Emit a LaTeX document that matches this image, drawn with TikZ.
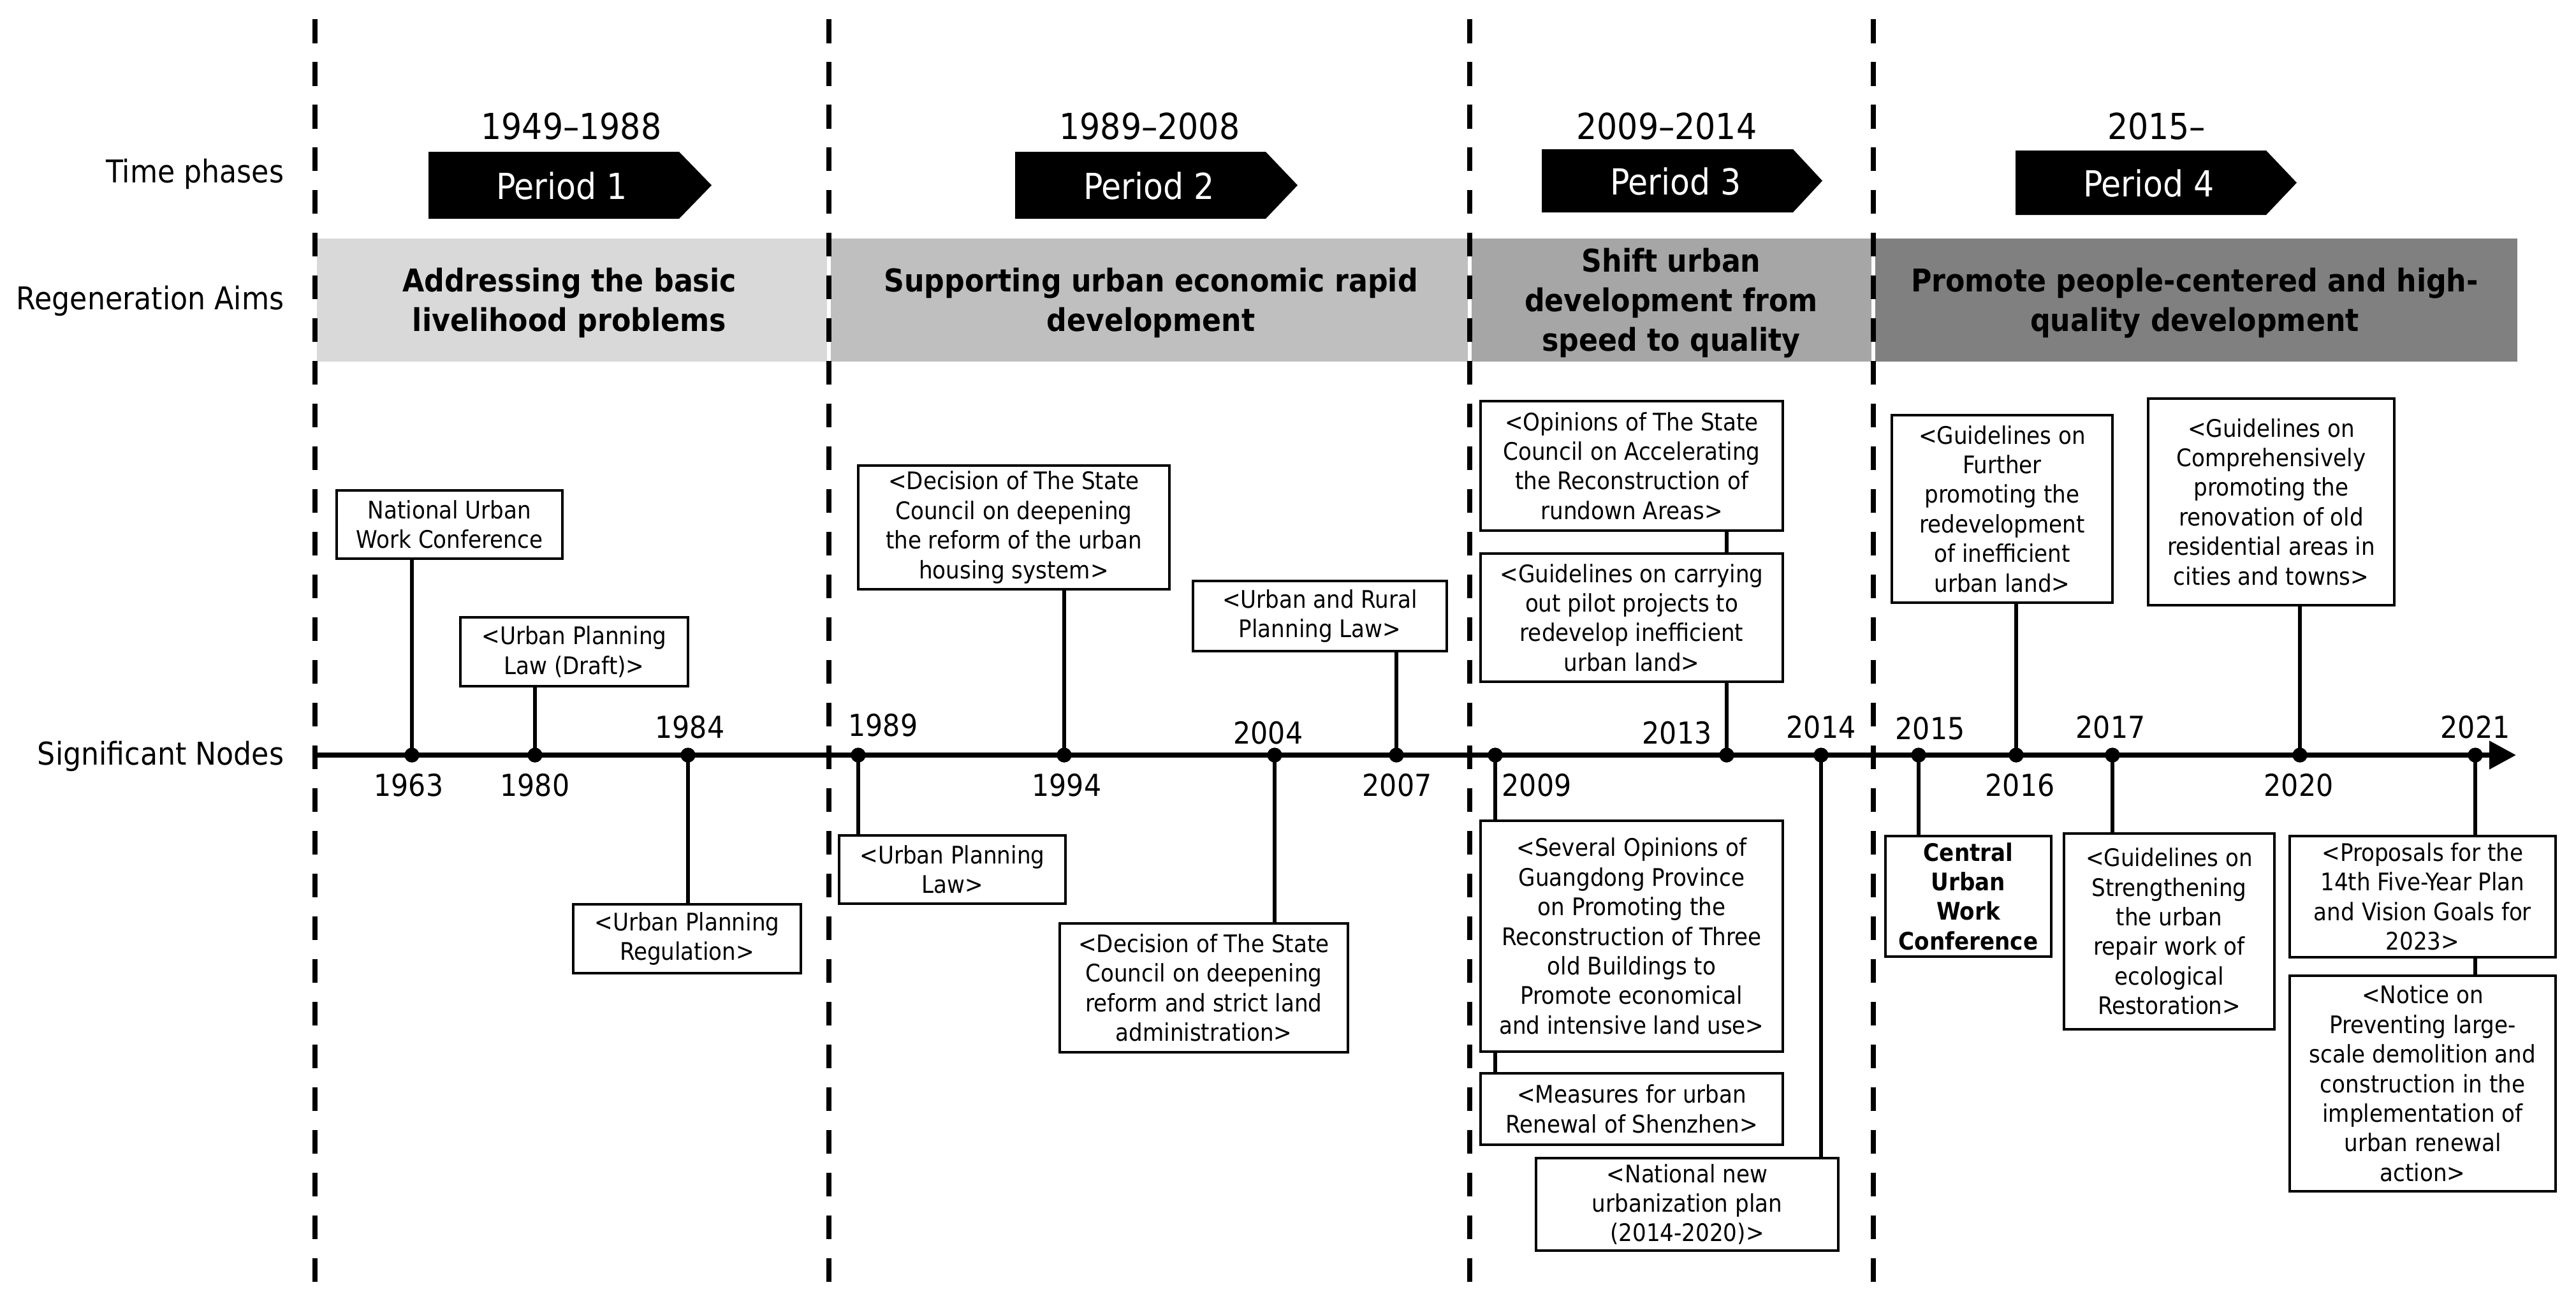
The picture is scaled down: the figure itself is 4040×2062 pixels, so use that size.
\documentclass[tikz,border=0pt]{standalone}
\usepackage{fontspec}
\setmainfont{DejaVu Sans Condensed}
\usetikzlibrary{arrows.meta}
\definecolor{aimA}{HTML}{D9D9D9}
\definecolor{aimB}{HTML}{BFBFBF}
\definecolor{aimC}{HTML}{A6A6A6}
\definecolor{aimD}{HTML}{808080}
\newcommand\fsz[2]{\fontsize{#1}{#2}\selectfont}
% optional style, name, x1, y1, x2, y2, text
\newcommand\docbox[7][]{\node[docbox,#1,minimum width={(#5-#3)*0.1mm},minimum height={(#6-#4)*0.1mm}] (#2) at ({(#3+#5)/2},{(#4+#6)/2}) {#7};}
% name, x1, x2, x3, ytop, ybot
\newcommand\periodshape[6]{\fill (#2,#5) -- (#3,#5) -- (#4,{(#5+#6)/2}) -- (#3,#6) -- (#2,#6) -- cycle;}
\begin{document}
\begin{tikzpicture}[x=0.1mm,y=-0.1mm,
  docbox/.style={draw,line width=1.2pt,fill=white,align=center,inner sep=0pt,font=\fsz{10.8}{13.2}},
  dotnode/.style={circle,fill=black,inner sep=0pt,minimum size=2.3mm},
  stem/.style={line width=1.6pt},
  yearlab/.style={font=\fsz{13.5}{16},inner sep=0pt},
  sidelab/.style={font=\fsz{14}{17},anchor=east,inner sep=0pt},
  aimtxt/.style={font=\bfseries\fsz{14}{17.6},align=center,inner sep=0pt},
  periodtxt/.style={text=white,font=\fsz{16}{19},inner sep=0pt},
  rangetxt/.style={font=\fsz{16}{19},inner sep=0pt},
  divider/.style={line width=2.5pt,dash pattern=on 3.75mm off 2.95mm},
  timeline/.style={line width=2.3pt,-{Triangle[length=4.2mm,width=4.3mm]}}]
\useasboundingbox (0,0) rectangle (4040,2062);

% side labels
\node[sidelab] (lt) at (446,273) {Time phases};
\node[sidelab] (la) at (446,472) {Regeneration Aims};
\node[sidelab] (ln) at (446,1186) {Significant Nodes};

% aims bars
\fill[aimA] (497,374) rectangle (1297,567);
\fill[aimB] (1303,374) rectangle (2302,567);
\fill[aimC] (2308,374) rectangle (2935,567);
\fill[aimD] (2941,374) rectangle (3948,567);
\node[aimtxt] (a1) at (893,475) {Addressing the basic\\livelihood problems};
\node[aimtxt] (a2) at (1805,475) {Supporting urban economic rapid\\development};
\node[aimtxt] (a3) at (2621,475) {Shift urban\\development from\\speed to quality};
\node[aimtxt] (a4) at (3442,475) {Promote people-centered and high-\\quality development};

% periods
\periodshape{s1}{672}{1065}{1116}{238}{343}
\periodshape{s2}{1592}{1985}{2035}{238}{343}
\periodshape{s3}{2418}{2812}{2858}{234}{333}
\periodshape{s4}{3161}{3554}{3602}{236}{337}
\node[periodtxt] (p1) at (881,292) {Period 1};
\node[periodtxt] (p2) at (1802,292) {Period 2};
\node[periodtxt] (p3) at (2628,285) {Period 3};
\node[periodtxt] (p4) at (3370,288) {Period 4};
\node[rangetxt] (r1) at (896,198) {1949–1988};
\node[rangetxt] (r2) at (1803,198) {1989–2008};
\node[rangetxt] (r3) at (2614,198) {2009–2014};
\node[rangetxt] (r4) at (3382,198) {2015–};

% dashed dividers
\coordinate (v1t) at (494,30);  \coordinate (v1b) at (494,2027);
\coordinate (v2t) at (1300,30); \coordinate (v2b) at (1300,2027);
\coordinate (v3t) at (2305,30); \coordinate (v3b) at (2305,2027);
\coordinate (v4t) at (2938,30); \coordinate (v4b) at (2938,2027);
\draw[divider] (v1t) -- (v1b);
\draw[divider] (v2t) -- (v2b);
\draw[divider] (v3t) -- (v3b);
\draw[divider] (v4t) -- (v4b);

% timeline
\coordinate (tls) at (494,1184);
\coordinate (tle) at (3946,1184);
\draw[timeline] (tls) -- (tle);

% dots
\foreach \n/\x in {1963/646,1980/839,1984/1079,1989/1346,1994/1669,2004/1999,2007/2190,2009/2345,2013/2708,2014/2856,2015/3009,2016/3162,2017/3313,2020/3607,2021/3882}
  \node[dotnode] (d\n) at (\x,1184) {};

% boxes
\docbox{b1963}{528}{769}{882}{876}{National Urban\\Work Conference}
\docbox{b1980}{722}{968}{1079}{1076}{<Urban Planning\\Law (Draft)>}
\docbox{b1984}{899}{1418}{1256}{1526}{<Urban Planning\\Regulation>}
\docbox{b1989}{1316}{1310}{1671}{1417}{<Urban Planning\\Law>}
\docbox{b1994}{1346}{730}{1834}{924}{<Decision of The State\\Council on deepening\\the reform of the urban\\housing system>}
\docbox{b2004}{1662}{1448}{2114}{1650}{<Decision of The State\\Council on deepening\\reform and strict land\\administration>}
\docbox{b2007}{1871}{911}{2269}{1021}{<Urban and Rural\\Planning Law>}
\docbox{b2009a}{2322}{1287}{2796}{1649}{<Several Opinions of\\Guangdong Province\\on Promoting the\\Reconstruction of Three\\old Buildings to\\Promote economical\\and intensive land use>}
\docbox{b2009b}{2322}{1683}{2796}{1795}{<Measures for urban\\Renewal of Shenzhen>}
\docbox{b2014}{2409}{1816}{2883}{1961}{<National new\\urbanization plan\\(2014-2020)>}
\docbox{b2013a}{2322}{629}{2796}{832}{<Opinions of The State\\Council on Accelerating\\the Reconstruction of\\rundown Areas>}
\docbox{b2013b}{2322}{868}{2796}{1069}{<Guidelines on carrying\\out pilot projects to\\redevelop inefficient\\urban land>}
\docbox[font=\bfseries\fsz{10.8}{13.2}]{b2015}{2957}{1311}{3217}{1500}{Central\\Urban\\Work\\Conference}
\docbox{b2016}{2967}{651}{3313}{945}{<Guidelines on\\Further\\promoting the\\redevelopment\\of inefficient\\urban land>}
\docbox{b2017}{3237}{1307}{3567}{1614}{<Guidelines on\\Strengthening\\the urban\\repair work of\\ecological\\Restoration>}
\docbox{b2020}{3369}{625}{3755}{949}{<Guidelines on\\Comprehensively\\promoting the\\renovation of old\\residential areas in\\cities and towns>}
\docbox{b2021a}{3591}{1311}{4008}{1501}{<Proposals for the\\14th Five-Year Plan\\and Vision Goals for\\2023>}
\docbox{b2021b}{3591}{1530}{4008}{1868}{<Notice on\\Preventing large-\\scale demolition and\\construction in the\\implementation of\\urban renewal\\action>}

% stems
\foreach \n/\b in {1963/b1963,1980/b1980,1994/b1994,2007/b2007,2013/b2013b,2016/b2016,2020/b2020}
  \draw[stem] (d\n.center) -- (d\n |- \b.south);
\foreach \n/\b in {1984/b1984,1989/b1989,2004/b2004,2009/b2009a,2014/b2014,2015/b2015,2017/b2017,2021/b2021a}
  \draw[stem] (d\n.center) -- (d\n |- \b.north);
\draw[stem] (d2013 |- b2013b.north) -- (d2013 |- b2013a.south);
\draw[stem] (d2009 |- b2009a.south) -- (d2009 |- b2009b.north);
\draw[stem] (d2021 |- b2021a.south) -- (d2021 |- b2021b.north);
\foreach \n/\x in {1963/646,1980/839,1984/1079,1989/1346,1994/1669,2004/1999,2007/2190,2009/2345,2013/2708,2014/2856,2015/3009,2016/3162,2017/3313,2020/3607,2021/3882}
  \node[dotnode] (e\n) at (\x,1184) {};

% year labels
\node[yearlab] (y1963) at (641,1231) {1963};
\node[yearlab] (y1980) at (839,1231) {1980};
\node[yearlab] (y1984) at (1082,1140) {1984};
\node[yearlab] (y1989) at (1385,1137) {1989};
\node[yearlab] (y1994) at (1673,1231) {1994};
\node[yearlab] (y2004) at (1989,1149) {2004};
\node[yearlab] (y2007) at (2191,1231) {2007};
\node[yearlab] (y2009) at (2410,1231) {2009};
\node[yearlab] (y2013) at (2630,1149) {2013};
\node[yearlab] (y2014) at (2856,1140) {2014};
\node[yearlab] (y2015) at (3027,1142) {2015};
\node[yearlab] (y2016) at (3168,1231) {2016};
\node[yearlab] (y2017) at (3310,1140) {2017};
\node[yearlab] (y2020) at (3605,1231) {2020};
\node[yearlab] (y2021) at (3882,1140) {2021};
\end{tikzpicture}
\end{document}
